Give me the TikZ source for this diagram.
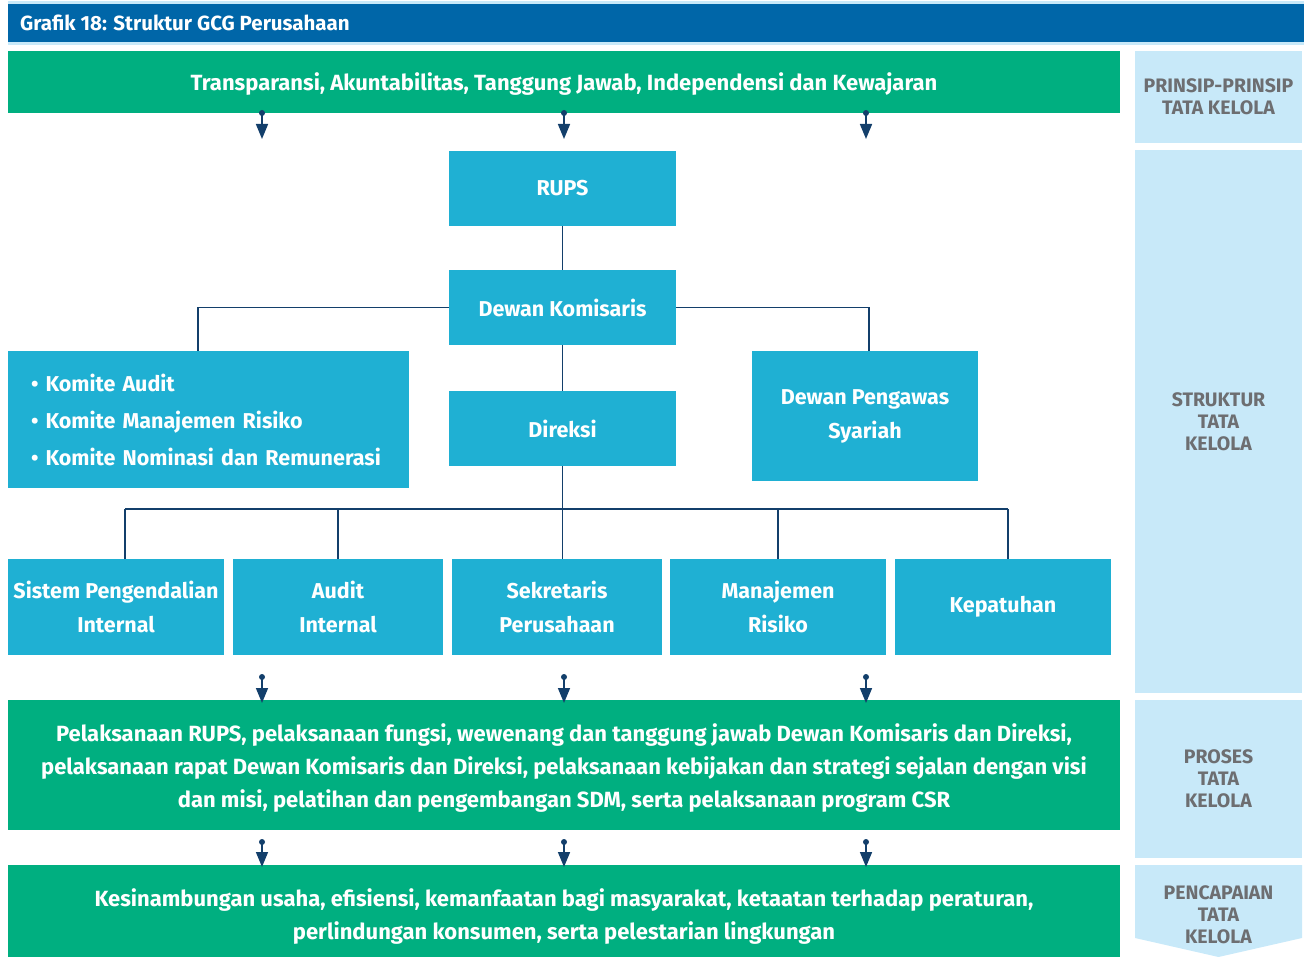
\documentclass[tikz,border=0pt]{standalone}
\usepackage{fontspec}
\setmainfont{Fira Sans}
\usetikzlibrary{arrows.meta,calc}
\definecolor{gr}{HTML}{00AF80}
\definecolor{cy}{HTML}{1FB0D3}
\definecolor{lb}{HTML}{C8E9F9}
\definecolor{tb}{HTML}{0066A8}
\definecolor{nv}{HTML}{133F6B}
\definecolor{gy}{HTML}{6D6E71}
\tikzset{
  gbox/.style={fill=gr,inner sep=0pt,minimum width=1112pt},
  gtext/.style={text=white,inner sep=0pt,align=center,font=\bfseries\fontsize{22}{33}\selectfont},
  cbox/.style={fill=cy,text=white,inner sep=0pt,align=center,font=\bfseries\fontsize{21.5}{34}\selectfont},
  rbox/.style={fill=lb,text=gy,inner sep=0pt,minimum width=167pt,align=center,font=\bfseries\fontsize{19.5}{22}\selectfont},
  ln/.style={draw=nv,line width=1.3pt},
  arr/.style={draw=nv,line width=1.6pt,-{Triangle[length=15pt,width=12pt]}},
  dotc/.style={fill=nv,circle,inner sep=0pt,minimum size=6pt}
}
\begin{document}
\begin{tikzpicture}[x=1pt,y=-1pt]
\useasboundingbox (0,0) rectangle (1304,957);
% title bar
\fill[lb] (8,1) rectangle (1304,45);
\node[fill=tb,minimum width=1296pt,minimum height=38pt,inner sep=0pt,anchor=north west] (title) at (8,4) {};
\node[anchor=west,text=white,inner sep=0pt,font=\bfseries\fontsize{20.5}{24}\selectfont] (ttext) at (20,23) {Grafik 18: Struktur GCG Perusahaan};
% right column
\node[rbox,minimum height=92pt] (r1) at (1218.5,97) {PRINSIP-PRINSIP\\TATA KELOLA};
\node[rbox,minimum height=543pt] (r2) at (1218.5,421.5) {STRUKTUR\\TATA\\KELOLA};
\node[rbox,minimum height=158pt] (r3) at (1218.5,779) {PROSES\\TATA\\KELOLA};
\fill[lb] (1135,865) -- (1302,865) -- (1302,938) -- (1218.5,957) -- (1135,938) -- cycle;
\node[text=gy,align=center,inner sep=0pt,font=\bfseries\fontsize{19.5}{22}\selectfont] (r4) at (1218.5,915) {PENCAPAIAN\\TATA\\KELOLA};
% green boxes
\node[gbox,minimum height=62pt] (g1) at (564,82) {};
\node[gtext] (g1t) at (564,84) {Transparansi, Akuntabilitas, Tanggung Jawab, Independensi dan Kewajaran};
\node[gbox,minimum height=130pt] (g2) at (564,765) {};
\node[gtext] (g2t) at (564,768) {Pelaksanaan RUPS, pelaksanaan fungsi, wewenang dan tanggung jawab Dewan Komisaris dan Direksi,\\pelaksanaan rapat Dewan Komisaris dan Direksi, pelaksanaan kebijakan dan strategi sejalan dengan visi\\dan misi, pelatihan dan pengembangan SDM, serta pelaksanaan program CSR};
\node[gbox,minimum height=92pt] (g3) at (564,911) {};
\node[gtext] (g3t) at (564,917) {Kesinambungan usaha, efisiensi, kemanfaatan bagi masyarakat, ketaatan terhadap peraturan,\\perlindungan konsumen, serta pelestarian lingkungan};
% structure boxes
\node[cbox,minimum width=227pt,minimum height=75pt] (rups) at (562.5,188.5) {RUPS};
\node[cbox,minimum width=227pt,minimum height=75pt] (dk) at (562.5,307.5) {Dewan Komisaris};
\node[cbox,minimum width=227pt,minimum height=75pt] (dir) at (562.5,428.5) {Direksi};
\node[cbox,minimum width=401pt,minimum height=137pt,align=left,font=\bfseries\fontsize{21.5}{37}\selectfont,text width=355pt] (kom) at (208.5,419.5) {\textbullet\ Komite Audit\\\textbullet\ Komite Manajemen Risiko\\\textbullet\ Komite Nominasi dan Remunerasi};
\node[cbox,minimum width=226pt,minimum height=130pt] (dps) at (865,416) {Dewan Pengawas\\Syariah};
\node[cbox,minimum width=216pt,minimum height=96pt] (sis) at (116,607) {Sistem Pengendalian\\Internal};
\node[cbox,minimum width=210pt,minimum height=96pt] (aud) at (338,607) {Audit\\Internal};
\node[cbox,minimum width=210pt,minimum height=96pt] (sek) at (557,607) {Sekretaris\\Perusahaan};
\node[cbox,minimum width=216pt,minimum height=96pt] (man) at (778,607) {Manajemen\\Risiko};
\node[cbox,minimum width=216pt,minimum height=96pt] (kep) at (1003,607) {\raisebox{-3pt}{Kepatuhan}};
% connectors
\draw[ln] (rups.south) -- (dk.north);
\draw[ln] (dk.west) -| ($(kom.north)+(-10.5,0)$);
\draw[ln] (dk.east) -| ($(dps.north)+(4,0)$);
\draw[ln] (dk.south) -- (dir.north);
\coordinate (busL) at (125,509);
\coordinate (busR) at (1008,509);
\draw[ln] (dir.south) -- (dir.south |- busL);
\draw[ln] (busL) -- (busR);
\draw[ln] (busL) -- (busL |- sis.north);
\draw[ln] (aud.north |- busL) -- (aud.north);
\draw[ln] (dir.south |- busL) -- (dir.south |- sek.north);
\draw[ln] (man.north |- busL) -- (man.north);
\draw[ln] (busR) -- (busR |- kep.north);
% arrows
\foreach \x [count=\i] in {262,564,866}{
  \node[dotc] (da\i) at (\x,113) {};
  \coordinate (ea\i) at (\x,139);
  \draw[arr] (da\i.center) -- (ea\i);
  \node[dotc] (db\i) at (\x,677) {};
  \coordinate (eb\i) at (\x,703);
  \draw[arr] (db\i.center) -- (eb\i);
  \node[dotc] (dc\i) at (\x,842) {};
  \coordinate (ec\i) at (\x,867);
  \draw[arr] (dc\i.center) -- (ec\i);
}
\end{tikzpicture}
\end{document}
